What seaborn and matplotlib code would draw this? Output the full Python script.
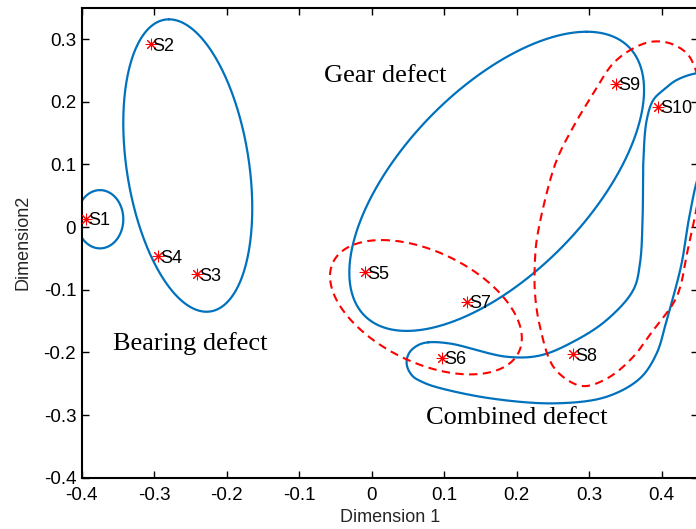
import numpy as np
import pandas as pd
import matplotlib
matplotlib.use("Agg")
import matplotlib.pyplot as plt
import seaborn as sns

# ---- sample points (MDS coordinates) ----
labels = ["S1", "S2", "S3", "S4", "S5", "S6", "S7", "S8", "S9", "S10"]
dim1 = [-0.394, -0.305, -0.241, -0.295, -0.009, 0.097, 0.131, 0.278, 0.337, 0.3945]
dim2 = [0.0128, 0.292, -0.075, -0.047, -0.072, -0.209, -0.119, -0.203, 0.229, 0.192]

# ---- ellipse outlines: centre, conjugate half-axes ----
ell_s1_center = [-0.3748, 0.0124]
ell_s1_u = [0.0, 0.0465]
ell_s1_v = [0.0322, 0.0]

ell_bearing_center = [-0.2537, 0.0981]
ell_bearing_u = [-0.0259, 0.2333]
ell_bearing_v = [0.0851, 0.0]

ell_gear_center = [0.1724, 0.0729]
ell_gear_u = [0.1241, 0.2387]
ell_gear_v = [0.161, 0.0]

ell_red_small_center = [0.0748, -0.1280]
ell_red_small_u = [-0.0610, 0.1072]
ell_red_small_v = [0.1174, 0.0]

# ---- free-form outlines (traced outline points) ----
combined_x = [0.0781, 0.1080, 0.1862, 0.2321, 0.2781, 0.3241, 0.3608, 0.3701, 0.3738,
              0.3746, 0.3793, 0.3884, 0.4022, 0.4207, 0.4483, 0.4694, 0.4832, 0.4777,
              0.4528, 0.4390, 0.4276, 0.4160, 0.4069, 0.3931, 0.3701, 0.3241, 0.2552,
              0.1632, 0.0873, 0.0690, 0.0574, 0.0497, 0.0483, 0.0528, 0.0643]
combined_y = [-0.1840, -0.1859, -0.2070, -0.2050, -0.1830, -0.1484, -0.1005, -0.0574, 0.0223,
              0.1021, 0.1707, 0.2026, 0.2186, 0.2346, 0.2453, 0.2441, 0.2026, 0.1388,
              0.0878, 0.0223, -0.0574, -0.1112, -0.1484, -0.2015, -0.2414, -0.2708, -0.2813,
              -0.2733, -0.2548, -0.2468, -0.2389, -0.2255, -0.2122, -0.1990, -0.1883]

red_big_x = [0.3862, 0.4114, 0.4345, 0.4459, 0.4556, 0.4583, 0.4501, 0.4367, 0.4207,
             0.3884, 0.3608, 0.3287, 0.2966, 0.2781, 0.2505, 0.2321, 0.2252, 0.2252,
             0.2276, 0.2390, 0.2552, 0.2781, 0.3057, 0.3332, 0.3608]
red_big_y = [0.2957, 0.2931, 0.2772, 0.2537, 0.2026, 0.1229, 0.0431, -0.0314, -0.1112,
             -0.1644, -0.2070, -0.2389, -0.2537, -0.2494, -0.2229, -0.1591, -0.1058, -0.0527,
             -0.0207, 0.0431, 0.1069, 0.1600, 0.2133, 0.2612, 0.2851]

group_names = ["Gear defect", "Bearing defect", "Combined defect"]
group_pos_x = [-0.066, -0.357, 0.075]
group_pos_y = [0.245, -0.182, -0.3]

x_ticks = [-0.4, -0.3, -0.2, -0.1, 0, 0.1, 0.2, 0.3, 0.4]
y_ticks = [-0.4, -0.3, -0.2, -0.1, 0, 0.1, 0.2, 0.3]
x_tick_labels = ["-0.4", "-0.3", "-0.2", "-0.1", "0", "0.1", "0.2", "0.3", "0.4"]
y_tick_labels = ["-0.4", "-0.3", "-0.2", "-0.1", "0", "0.1", "0.2", "0.3"]


def ellipse_xy(c, u, v, n=300):
    t = np.linspace(0, 2 * np.pi, n)
    return (c[0] + u[0] * np.cos(t) + v[0] * np.sin(t),
            c[1] + u[1] * np.cos(t) + v[1] * np.sin(t))


def closed_spline(ax, xs, ys, n=30):
    """Centripetal Catmull-Rom closed curve, spacing measured on screen."""
    D = np.column_stack([xs, ys])
    P = ax.transData.transform(D)
    N = len(P)
    out = []
    for i in range(N):
        p0, p1, p2, p3 = P[(i - 1) % N], P[i], P[(i + 1) % N], P[(i + 2) % N]
        t0 = 0.0
        t1 = t0 + np.linalg.norm(p1 - p0) ** 0.5
        t2 = t1 + np.linalg.norm(p2 - p1) ** 0.5
        t3 = t2 + np.linalg.norm(p3 - p2) ** 0.5
        t = np.linspace(t1, t2, n, endpoint=False)[:, None]
        a1 = (t1 - t) / (t1 - t0) * p0 + (t - t0) / (t1 - t0) * p1
        a2 = (t2 - t) / (t2 - t1) * p1 + (t - t1) / (t2 - t1) * p2
        a3 = (t3 - t) / (t3 - t2) * p2 + (t - t2) / (t3 - t2) * p3
        b1 = (t2 - t) / (t2 - t0) * a1 + (t - t0) / (t2 - t0) * a2
        b2 = (t3 - t) / (t3 - t1) * a2 + (t - t1) / (t3 - t1) * a3
        c = (t2 - t) / (t2 - t1) * b1 + (t - t1) / (t2 - t1) * b2
        out.append(c)
    out.append(P[:1])
    A = ax.transData.inverted().transform(np.vstack(out))
    return A[:, 0], A[:, 1]


sns.set_theme(style="white")
plt.rcParams["font.family"] = ["Liberation Sans", "DejaVu Sans"]
plt.rcParams["xtick.direction"] = "in"
plt.rcParams["ytick.direction"] = "in"

fig = plt.figure(figsize=(6.96, 5.29), dpi=100)
ax = fig.add_axes([81.7 / 696, (529 - 477.7) / 529, 616.25 / 696, (477.7 - 7.67) / 529])
ax.set_xlim(-0.4, 0.45)
ax.set_ylim(-0.4, 0.35)

blue = "#0072BD"
lw = 1.6
for c, u, v in [(ell_s1_center, ell_s1_u, ell_s1_v),
                (ell_bearing_center, ell_bearing_u, ell_bearing_v),
                (ell_gear_center, ell_gear_u, ell_gear_v)]:
    ex, ey = ellipse_xy(c, u, v)
    ax.plot(ex, ey, color=blue, lw=lw)

cx, cy = closed_spline(ax, combined_x, combined_y)
ax.plot(cx, cy, color=blue, lw=lw)

ex, ey = ellipse_xy(ell_red_small_center, ell_red_small_u, ell_red_small_v)
ax.plot(ex, ey, color="red", lw=1.5, linestyle=(0, (4, 2.6)))
rx, ry = closed_spline(ax, red_big_x, red_big_y)
ax.plot(rx, ry, color="red", lw=1.5, linestyle=(0, (4, 2.6)))

df = pd.DataFrame({"Dimension 1": dim1, "Dimension2": dim2, "label": labels})
sns.scatterplot(data=df, x="Dimension 1", y="Dimension2", ax=ax, marker=(8, 2, 0),
                color="red", s=60, linewidth=0.75, edgecolor="red", zorder=5)

for lab, x, y in zip(labels, dim1, dim2):
    ax.annotate(lab, (x, y), xytext=(1.5, 0), textcoords="offset points",
                ha="left", va="center_baseline", fontsize=13, color="black", zorder=6)

for name, x, y in zip(group_names, group_pos_x, group_pos_y):
    ax.text(x, y, name, fontsize=19, family=["Liberation Serif", "DejaVu Serif"],
            ha="left", va="center_baseline", color="black")

ax.set_xlim(-0.4, 0.45)
ax.set_ylim(-0.4, 0.35)
ax.set_xticks(x_ticks)
ax.set_xticklabels(x_tick_labels)
ax.set_yticks(y_ticks)
ax.set_yticklabels(y_tick_labels)
ax.tick_params(axis="both", which="both", direction="in", length=5, width=1.0,
               labelsize=13.5, top=True, right=True, bottom=True, left=True,
               colors="black")
ax.tick_params(axis="x", pad=6.5)
ax.tick_params(axis="y", pad=4)
for sp in ax.spines.values():
    sp.set_visible(True)
    sp.set_color("black")
    sp.set_linewidth(1.5)

ax.set_xlabel("Dimension 1", fontsize=13, labelpad=4)
ax.set_ylabel("Dimension2", fontsize=13, labelpad=9)
ax.grid(False)

fig.savefig("out.png", dpi=100)
